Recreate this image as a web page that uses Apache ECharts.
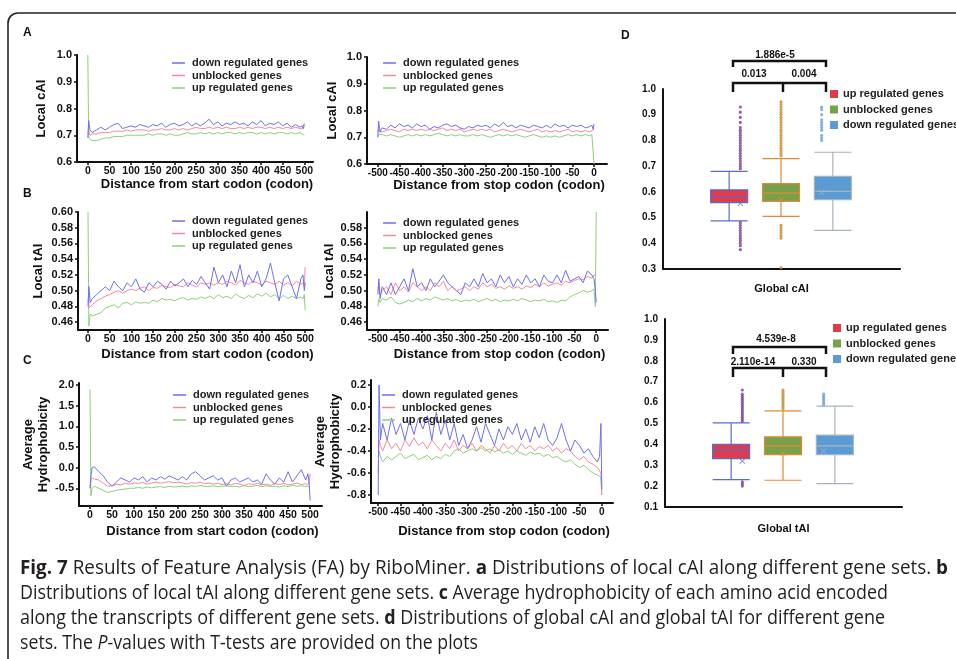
<!DOCTYPE html>
<html><head><meta charset="utf-8">
<script src="https://cdn.jsdelivr.net/npm/echarts@6/dist/echarts.min.js"></script>
<style>html,body{margin:0;padding:0;background:#fff}#c{width:956px;height:659px}</style>
</head><body><div id="c"></div><script>
// ---------- DATA ----------
const seriesNames = ['down regulated genes', 'unblocked genes', 'up regulated genes'];
const boxNames = ['up regulated genes', 'unblocked genes', 'down regulated genes'];

const posStart = [0,2,5, 10,20,30,40,50,60,70,80,90,100, 110,120,130,140,150,160,170,180,190,200,
  210,220,230,240,250,260,270,280,290,300, 310,320,330,340,350,360,370,380,390,400,
  410,420,430,440,450,460,470,480,490, 495,498,500];
const posStop = [-500,-498,-495, -490,-480,-470,-460,-450,-440,-430,-420,-410,-400,
  -390,-380,-370,-360,-350,-340,-330,-320,-310,-300, -290,-280,-270,-260,-250,-240,-230,-220,-210,-200,
  -190,-180,-170,-160,-150,-140,-130,-120,-110,-100, -90,-80,-70,-60,-50,-40,-30,-20,-10, -5,-2,0];

const startTicks = [0,50,100,150,200,250,300,350,400,450,500];
const stopTicks = [-500,-450,-400,-350,-300,-250,-200,-150,-100,-50,0];
const cAITicks = [0.6,0.7,0.8,0.9,1.0];
const tAITicksL = [0.46,0.48,0.50,0.52,0.54,0.56,0.58,0.60];
const tAITicksR = [0.46,0.48,0.50,0.52,0.54,0.56,0.58];
const hydTicksL = [-0.5,0,0.5,1.0,1.5,2.0];
const hydTicksR = [-0.8,-0.6,-0.4,-0.2,0,0.2];

// Panel A: local cAI
const cAIStartDown = [0.69,0.755,0.72, 0.71,0.72,0.73,0.72,0.73,0.74,0.745,0.725,0.73,0.735, 0.73,0.74,0.735,0.73,0.74,0.735,0.745,0.73,0.74,0.745, 0.735,0.74,0.75,0.735,0.745,0.735,0.745,0.76,0.74,0.75, 0.735,0.745,0.74,0.75,0.74,0.745,0.735,0.75,0.74,0.755, 0.735,0.745,0.74,0.75,0.735,0.745,0.73,0.74,0.73, 0.735,0.725,0.74];
const cAIStartUnb = [0.71,0.72,0.70, 0.705,0.705,0.71,0.71,0.71,0.715,0.715,0.715,0.72,0.715, 0.72,0.72,0.72,0.715,0.72,0.72,0.725,0.72,0.72,0.725, 0.72,0.725,0.72,0.725,0.73,0.725,0.725,0.73,0.725,0.73, 0.725,0.73,0.725,0.725,0.73,0.725,0.73,0.725,0.73,0.73, 0.725,0.73,0.725,0.73,0.725,0.73,0.725,0.73,0.725, 0.725,0.72,0.745];
const cAIStartUp = [1.0,0.69,0.685, 0.68,0.68,0.685,0.69,0.69,0.695,0.695,0.695,0.70,0.70, 0.70,0.70,0.70,0.705,0.70,0.705,0.705,0.70,0.705,0.70, 0.70,0.705,0.71,0.705,0.705,0.71,0.705,0.71,0.705,0.71, 0.705,0.71,0.71,0.705,0.71,0.705,0.71,0.71,0.705,0.71, 0.705,0.71,0.705,0.71,0.71,0.705,0.71,0.705,0.71, 0.705,0.70,0.70];
const cAIStopDown = [0.70,0.76,0.72, 0.735,0.73,0.745,0.735,0.75,0.74,0.745,0.735,0.75,0.74, 0.745,0.73,0.74,0.735,0.745,0.75,0.74,0.745,0.735,0.73, 0.74,0.735,0.745,0.74,0.745,0.735,0.75,0.74,0.755,0.74, 0.745,0.735,0.745,0.74,0.735,0.745,0.74,0.735,0.745,0.735, 0.75,0.74,0.745,0.735,0.745,0.74,0.745,0.735,0.74, 0.745,0.73,0.75];
const cAIStopUnb = [0.73,0.72,0.725, 0.72,0.725,0.73,0.725,0.72,0.73,0.725,0.73,0.725,0.73, 0.725,0.73,0.725,0.73,0.735,0.725,0.73,0.725,0.73,0.72, 0.725,0.73,0.725,0.73,0.725,0.73,0.72,0.725,0.73,0.725, 0.72,0.725,0.73,0.725,0.72,0.725,0.73,0.72,0.725,0.72, 0.725,0.72,0.725,0.73,0.72,0.725,0.72,0.725,0.72, 0.725,0.73,0.73];
const cAIStopUp = [0.70,0.71,0.705, 0.71,0.705,0.71,0.705,0.70,0.705,0.71,0.705,0.71,0.705, 0.71,0.705,0.71,0.715,0.71,0.705,0.71,0.705,0.71,0.705, 0.705,0.71,0.705,0.71,0.705,0.70,0.705,0.71,0.705,0.71, 0.705,0.71,0.705,0.70,0.705,0.71,0.705,0.70,0.705,0.70, 0.705,0.70,0.705,0.71,0.705,0.71,0.705,0.71,0.705, 0.71,0.71,0.60];

// Panel B: local tAI
const tAIStartDown = [0.48,0.505,0.485, 0.49,0.495,0.50,0.505,0.50,0.512,0.505,0.50,0.51,0.505, 0.515,0.502,0.498,0.51,0.505,0.512,0.508,0.502,0.512,0.506, 0.51,0.515,0.505,0.513,0.508,0.518,0.51,0.502,0.53,0.51, 0.52,0.505,0.525,0.51,0.533,0.505,0.52,0.51,0.525,0.505, 0.515,0.535,0.51,0.487,0.515,0.52,0.505,0.49,0.515, 0.52,0.50,0.51];
const tAIStartUnb = [0.49,0.478,0.48, 0.482,0.487,0.49,0.493,0.495,0.498,0.50,0.497,0.50,0.502, 0.50,0.503,0.505,0.50,0.504,0.503,0.507,0.505,0.504,0.508, 0.506,0.505,0.51,0.507,0.505,0.51,0.508,0.51,0.507,0.51, 0.508,0.512,0.51,0.507,0.513,0.51,0.508,0.512,0.51,0.507, 0.512,0.51,0.508,0.512,0.507,0.51,0.506,0.512,0.508, 0.51,0.505,0.53];
const tAIStartUp = [0.60,0.455,0.47, 0.468,0.47,0.472,0.478,0.48,0.482,0.478,0.484,0.485,0.482, 0.486,0.484,0.485,0.484,0.488,0.486,0.49,0.488,0.489,0.487, 0.49,0.491,0.488,0.49,0.489,0.492,0.49,0.493,0.49,0.495, 0.491,0.493,0.49,0.496,0.492,0.49,0.494,0.491,0.496,0.493, 0.497,0.492,0.495,0.49,0.494,0.49,0.493,0.49,0.492, 0.49,0.495,0.475];
const tAIStopDown = [0.495,0.515,0.49, 0.505,0.495,0.51,0.495,0.505,0.515,0.50,0.528,0.505,0.51, 0.50,0.515,0.505,0.512,0.52,0.51,0.505,0.50,0.495,0.51, 0.505,0.515,0.505,0.522,0.51,0.515,0.505,0.52,0.51,0.518, 0.505,0.515,0.508,0.52,0.51,0.515,0.505,0.52,0.512,0.51, 0.52,0.51,0.526,0.512,0.515,0.518,0.51,0.525,0.52, 0.515,0.50,0.485];
const tAIStopUnb = [0.50,0.51,0.495, 0.50,0.505,0.495,0.51,0.50,0.505,0.498,0.51,0.505,0.50, 0.505,0.50,0.51,0.505,0.512,0.50,0.505,0.50,0.502,0.505, 0.50,0.505,0.502,0.51,0.505,0.508,0.503,0.505,0.502,0.506, 0.503,0.505,0.502,0.506,0.504,0.508,0.505,0.51,0.506,0.508, 0.51,0.507,0.512,0.51,0.513,0.515,0.514,0.518,0.516, 0.52,0.518,0.52];
const tAIStopUp = [0.48,0.49,0.485, 0.49,0.488,0.492,0.485,0.483,0.485,0.488,0.486,0.49,0.487, 0.49,0.488,0.492,0.49,0.488,0.49,0.487,0.489,0.486,0.488, 0.487,0.489,0.486,0.488,0.49,0.487,0.489,0.486,0.488,0.487, 0.489,0.487,0.49,0.488,0.486,0.488,0.487,0.489,0.486,0.487, 0.485,0.488,0.487,0.492,0.495,0.497,0.50,0.498,0.50, 0.502,0.48,0.60];

// Panel C: average hydrophobicity
const hydStartDown = [-0.5,-0.2,0.0, 0.02,-0.1,-0.2,-0.35,-0.45,-0.35,-0.25,-0.3,-0.35,-0.25, -0.3,-0.22,-0.35,-0.25,-0.3,-0.22,-0.28,-0.2,-0.25,-0.3, -0.22,-0.3,-0.15,-0.1,-0.2,-0.3,-0.25,-0.2,-0.3,-0.25, -0.45,-0.3,-0.25,-0.35,-0.3,-0.25,-0.35,-0.3,-0.4,-0.15, -0.3,-0.4,-0.25,-0.35,-0.1,-0.35,-0.2,-0.05,-0.3, -0.15,-0.4,-0.8];
const hydStartUnb = [-0.5,-0.3,-0.25, -0.28,-0.3,-0.38,-0.45,-0.44,-0.4,-0.42,-0.38,-0.4,-0.37, -0.38,-0.36,-0.4,-0.37,-0.35,-0.38,-0.36,-0.34,-0.37,-0.35, -0.37,-0.4,-0.36,-0.38,-0.35,-0.39,-0.37,-0.4,-0.38,-0.41, -0.39,-0.42,-0.38,-0.4,-0.43,-0.39,-0.41,-0.38,-0.42,-0.4, -0.43,-0.39,-0.41,-0.38,-0.42,-0.4,-0.37,-0.41,-0.39, -0.42,-0.35,-0.15];
const hydStartUp = [1.9,-0.68,-0.5, -0.45,-0.5,-0.55,-0.6,-0.58,-0.55,-0.53,-0.52,-0.5,-0.5, -0.48,-0.5,-0.47,-0.49,-0.47,-0.46,-0.48,-0.45,-0.47,-0.46, -0.45,-0.47,-0.44,-0.46,-0.43,-0.45,-0.46,-0.44,-0.46,-0.45, -0.44,-0.46,-0.45,-0.47,-0.44,-0.46,-0.45,-0.43,-0.46,-0.44, -0.46,-0.45,-0.47,-0.44,-0.46,-0.43,-0.45,-0.44,-0.46, -0.45,-0.47,-0.5];
const hydStopDown = [-0.8,0.2,-0.3, -0.15,-0.3,-0.1,-0.25,-0.15,-0.3,-0.12,-0.25,-0.1,-0.2, -0.08,-0.3,-0.05,-0.25,-0.12,-0.3,-0.15,-0.35,-0.25,-0.38, -0.3,-0.18,-0.32,-0.15,-0.25,-0.35,-0.2,-0.3,-0.18,-0.25, -0.15,-0.3,-0.2,-0.32,-0.18,-0.28,-0.15,-0.3,-0.35,-0.28, -0.15,-0.3,-0.4,-0.3,-0.35,-0.42,-0.38,-0.45,-0.5, -0.45,-0.15,-0.75];
const hydStopUnb = [-0.6,-0.3,-0.35, -0.4,-0.3,-0.38,-0.33,-0.4,-0.3,-0.36,-0.28,-0.35,-0.32, -0.38,-0.3,-0.35,-0.4,-0.33,-0.38,-0.3,-0.4,-0.35,-0.38, -0.33,-0.4,-0.35,-0.38,-0.42,-0.35,-0.4,-0.33,-0.38,-0.35, -0.4,-0.33,-0.38,-0.35,-0.4,-0.36,-0.38,-0.35,-0.4,-0.37, -0.42,-0.38,-0.4,-0.45,-0.48,-0.45,-0.5,-0.52,-0.55, -0.58,-0.6,-0.8];
const hydStopUp = [-0.45,-0.4,-0.45, -0.5,-0.45,-0.48,-0.45,-0.42,-0.47,-0.45,-0.43,-0.48,-0.46, -0.44,-0.48,-0.45,-0.47,-0.43,-0.45,-0.4,-0.38,-0.42,-0.4, -0.38,-0.4,-0.37,-0.4,-0.38,-0.41,-0.39,-0.42,-0.4,-0.43, -0.4,-0.42,-0.44,-0.41,-0.43,-0.42,-0.45,-0.43,-0.46,-0.45, -0.48,-0.5,-0.48,-0.52,-0.55,-0.53,-0.57,-0.6,-0.62, -0.63,-0.65,-0.8];

// Panel D: box plots [min, Q1, median, Q3, max]
const cAIBoxes = [[0.487,0.558,0.582,0.608,0.68],[0.505,0.563,0.595,0.632,0.729],[0.45,0.57,0.602,0.66,0.754]];
const cAIMeans = [0.555,0.57,0.598];
const cAIUpOut = [0.69,0.70,0.71,0.72,0.73,0.74,0.75,0.76,0.77,0.78,0.79,0.80,0.81,0.82,0.83,0.84,0.85,0.87,0.89,0.91,0.93,0.48,0.47,0.46,0.45,0.44,0.43,0.42,0.41,0.40,0.39,0.375];
const cAIUnbOut = [0.74,0.75,0.76,0.77,0.78,0.79,0.80,0.81,0.82,0.83,0.84,0.85,0.86,0.87,0.88,0.89,0.90,0.91,0.92,0.93,0.94,0.95,0.47,0.46,0.45,0.44,0.43,0.42,0.305];
const cAIDownOut = [0.80,0.81,0.82,0.84,0.85,0.86,0.87,0.88,0.90,0.92,0.93];
const tAIBoxes = [[0.231,0.332,0.372,0.40,0.503],[0.228,0.351,0.393,0.436,0.56],[0.212,0.351,0.393,0.444,0.583]];
const tAIMeans = [0.32,0.359,0.368];
const tAIUpOut = [0.51,0.52,0.53,0.54,0.55,0.56,0.57,0.58,0.59,0.60,0.61,0.62,0.63,0.64,0.66,0.22,0.21,0.20];
const tAIUnbOut = [0.57,0.58,0.59,0.60,0.61,0.62,0.63,0.64,0.65,0.66];
const tAIDownOut = [0.59,0.60,0.61,0.62,0.63,0.64];
const cAIPvals = ['1.886e-5','0.013','0.004'];
const tAIPvals = ['4.539e-8','2.110e-14','0.330'];
const dTicksTop = [0.3,1.0];
const dTicksBottom = [0.1,1.0];

// ---------- STYLE ----------
const FONT = '"Liberation Sans", Arial, sans-serif';
const INK = '#111';
const lineColors = ['#6f6ff2', '#f58a98', '#8dcf77'];
const boxFill = ['#de3b4b', '#78a04a', '#5b9bd5'];
const boxBorder = ['#5a6bd0', '#e08b34', '#a9b3bd'];
const outColor = ['#7a3c95', '#c88b2e', '#6d9fd2'];

const grids = [], xAxes = [], yAxes = [], series = [], legends = [];

function lineChart(cfg) {
  const gi = grids.length;
  grids.push({left: cfg.box[0], top: cfg.box[1], width: cfg.box[2], height: cfg.box[3]});
  xAxes.push({type: 'value', gridIndex: gi, min: cfg.x[0], max: cfg.x[1],
    axisLine: {show: true, onZero: false, lineStyle: {color: INK, width: 2}},
    axisTick: {show: true, customValues: cfg.xt, length: 3, lineStyle: {color: INK, width: 1.5}},
    axisLabel: {customValues: cfg.xt, fontSize: cfg.xfs, fontWeight: 'bold', color: INK, fontFamily: FONT, margin: 4},
    splitLine: {show: false},
    name: cfg.xName, nameLocation: 'middle', nameGap: cfg.xGap,
    nameTextStyle: {fontSize: 13, fontWeight: 'bold', color: INK, fontFamily: FONT, padding: [0, 0, 0, 24]}});
  yAxes.push({type: 'value', gridIndex: gi, min: cfg.y[0], max: cfg.y[1],
    axisLine: {show: true, onZero: false, lineStyle: {color: INK, width: 2}},
    axisTick: {show: true, customValues: cfg.yt, length: 3, lineStyle: {color: INK, width: 1.5}},
    axisLabel: {customValues: cfg.yt, fontSize: 11, fontWeight: 'bold', color: INK, fontFamily: FONT, margin: 5,
      formatter: v => Number(v).toFixed(cfg.dec)},
    splitLine: {show: false},
    name: cfg.yName, nameLocation: 'middle', nameGap: cfg.yGap, nameRotate: 90,
    nameTextStyle: {fontSize: 13, fontWeight: 'bold', color: INK, fontFamily: FONT, lineHeight: 15}});
  // draw order: up, unblocked, down (down on top)
  [2, 1, 0].forEach(k => {
    series.push({type: 'line', name: seriesNames[k], xAxisIndex: gi, yAxisIndex: gi,
      data: cfg.pos.map((p, i) => [p, cfg.vals[k][i]]),
      showSymbol: false, symbol: 'none', silent: true, animation: false,
      lineStyle: {color: lineColors[k], width: 1}, itemStyle: {color: lineColors[k]}});
  });
  legends.push({left: cfg.leg[0], top: cfg.leg[1], orient: 'vertical', icon: 'rect', padding: 0,
    itemWidth: 13, itemHeight: 1.5, itemGap: 0.5,
    textStyle: {fontSize: 11, fontWeight: 'bold', color: '#222', fontFamily: FONT, lineHeight: 12, padding: [0, 0, 0, 2]},
    data: seriesNames.map((n, k) => ({name: n, itemStyle: {color: lineColors[k], borderWidth: 0}}))});
}

lineChart({box: [77, 55, 236, 107], x: [-25, 520], y: [0.6, 1.0], xt: startTicks, yt: cAITicks, xfs: 10.5, dec: 1,
  yName: 'Local cAI', yGap: 28, xName: 'Distance from start codon (codon)', xGap: 16, leg: [172, 57], pos: posStart,
  vals: [cAIStartDown, cAIStartUnb, cAIStartUp]});
lineChart({box: [367, 57, 240, 107], x: [-525, 30], y: [0.6, 1.0], xt: stopTicks, yt: cAITicks, xfs: 10, dec: 1,
  yName: 'Local cAI', yGap: 27, xName: 'Distance from stop codon (codon)', xGap: 14, leg: [383, 57], pos: posStop,
  vals: [cAIStopDown, cAIStopUnb, cAIStopUp]});
lineChart({box: [78, 212, 235, 118], x: [-23, 518], y: [0.45, 0.60], xt: startTicks, yt: tAITicksL, xfs: 10.5, dec: 2,
  yName: 'Local tAI', yGap: 32, xName: 'Distance from start codon (codon)', xGap: 18, leg: [172, 215], pos: posStart,
  vals: [tAIStartDown, tAIStartUnb, tAIStartUp]});
lineChart({box: [367, 212, 241, 118], x: [-525, 27], y: [0.45, 0.60], xt: stopTicks, yt: tAITicksR, xfs: 10, dec: 2,
  yName: 'Local tAI', yGap: 30, xName: 'Distance from stop codon (codon)', xGap: 18, leg: [383, 217], pos: posStop,
  vals: [tAIStopDown, tAIStopUnb, tAIStopUp]});
lineChart({box: [79, 383, 243, 123], x: [-25, 527], y: [-0.93, 2.05], xt: startTicks, yt: hydTicksL, xfs: 10.5, dec: 1,
  yName: 'Average\nHydrophobicity', yGap: 25, xName: 'Distance from start codon (codon)', xGap: 19, leg: [173, 389], pos: posStart,
  vals: [hydStartDown, hydStartUnb, hydStartUp]});
lineChart({box: [371, 380, 242, 123], x: [-516, 25], y: [-0.873, 0.245], xt: stopTicks, yt: hydTicksR, xfs: 10, dec: 1,
  yName: 'Average\nHydrophobicity', yGap: 28, xName: 'Distance from stop codon (codon)', xGap: 22, leg: [382, 389], pos: posStop,
  vals: [hydStopDown, hydStopUnb, hydStopUp]});

const cross = 'path://M0,1 L1,0 L5,4 L9,0 L10,1 L6,5 L10,9 L9,10 L5,6 L1,10 L0,9 L4,5Z';

function boxChart(cfg) {
  const gm = grids.length;
  grids.push({left: cfg.main[0], top: cfg.main[1], width: cfg.main[2], height: cfg.main[3]});
  xAxes.push({type: 'category', gridIndex: gm, data: [cfg.xName],
    axisLine: {show: true, lineStyle: {color: INK, width: 2}}, axisTick: {show: false}, axisLabel: {show: false},
    name: cfg.xName, nameLocation: 'middle', nameGap: cfg.xGap,
    nameTextStyle: {fontSize: 11, fontWeight: 'bold', color: INK, fontFamily: FONT, padding: [0, 0, 0, cfg.xPad]}});
  yAxes.push({type: 'value', gridIndex: gm, min: cfg.y[0], max: cfg.y[1], interval: 0.1,
    axisLine: {show: true, lineStyle: {color: INK, width: 2}}, axisTick: {show: false}, splitLine: {show: false},
    axisLabel: {fontSize: 10, fontWeight: 'bold', color: INK, fontFamily: FONT, margin: 7, formatter: v => v.toFixed(1)}});
  const gb = grids.length;
  grids.push({left: cfg.boxGrid[0], top: cfg.main[1], width: cfg.boxGrid[1], height: cfg.main[3]});
  xAxes.push({type: 'category', gridIndex: gb, data: boxNames, show: false});
  yAxes.push({type: 'value', gridIndex: gb, min: cfg.y[0], max: cfg.y[1], show: false});
  cfg.boxes.forEach((b, k) => {
    series.push({type: 'boxplot', name: boxNames[k], xAxisIndex: gb, yAxisIndex: gb, boxWidth: [37, 37],
      silent: true, animation: false,
      itemStyle: {color: boxFill[k], borderColor: boxBorder[k], borderWidth: 1.2},
      data: boxNames.map((n, j) => j === k ? b : '-')});
  });
  cfg.outs.forEach((arr, k) => {
    series.push({type: 'scatter', xAxisIndex: gb, yAxisIndex: gb, symbolSize: 3.2, silent: true, animation: false,
      itemStyle: {color: outColor[k]}, data: arr.map(v => [k, v])});
  });
  series.push({type: 'scatter', xAxisIndex: gb, yAxisIndex: gb, symbol: cross, symbolSize: 6, silent: true, animation: false,
    data: cfg.means.map((v, k) => ({value: [k, v], itemStyle: {color: boxBorder[k]}}))});
  legends.push({left: cfg.leg[0], top: cfg.leg[1], orient: 'vertical', icon: 'rect', padding: 0,
    itemWidth: 8, itemHeight: 8, itemGap: 3.5,
    textStyle: {fontSize: 11, fontWeight: 'bold', color: '#222', fontFamily: FONT, lineHeight: 12, padding: [0, 0, 0, 0]},
    data: boxNames.map((n, k) => ({name: n, itemStyle: {color: boxFill[k], borderWidth: 0}}))});
}

boxChart({main: [663, 89, 237, 180], boxGrid: [720, 122], y: dTicksTop, xName: 'Global cAI', xGap: 14, xPad: 0,
  boxes: cAIBoxes, means: cAIMeans, outs: [cAIUpOut, cAIUnbOut, cAIDownOut], leg: [830, 88]});
boxChart({main: [665, 319, 237, 188], boxGrid: [722, 122], y: dTicksBottom, xName: 'Global tAI', xGap: 16, xPad: 0,
  boxes: tAIBoxes, means: tAIMeans, outs: [tAIUpOut, tAIUnbOut, tAIDownOut], leg: [833, 322]});

// ---------- ANNOTATIONS ----------
const graphics = [];
graphics.push({type: 'rect', shape: {x: 8, y: 13, width: 1000, height: 700, r: [10, 0, 0, 0]},
  style: {fill: 'none', stroke: '#222', lineWidth: 1.6}, silent: true});
[['A', 23, 33], ['B', 23, 194], ['C', 23, 361], ['D', 621, 36]].forEach(([t, x, y]) => {
  graphics.push({type: 'text', x: x, y: y, style: {text: t, fontSize: 12, fontWeight: 'bold', fontFamily: FONT, fill: INK, verticalAlign: 'middle'}});
});
function bracket(yTop, tick1, yLow, tick2, xs, labels, labelY) {
  const st = {stroke: INK, lineWidth: 2.5, fill: 'none'};
  graphics.push({type: 'polyline', shape: {points: [[xs[0], tick1], [xs[0], yTop], [xs[2], yTop], [xs[2], tick1]]}, style: st});
  graphics.push({type: 'polyline', shape: {points: [[xs[0], tick2], [xs[0], yLow], [xs[2], yLow], [xs[2], tick2]]}, style: st});
  graphics.push({type: 'line', shape: {x1: xs[1], y1: yLow, x2: xs[1], y2: tick2}, style: st});
  labels.forEach((t, i) => {
    graphics.push({type: 'text', x: labelY[i][0], y: labelY[i][1],
      style: {text: t, fontSize: 10, fontWeight: 'bold', fontFamily: FONT, fill: INK, align: 'center', verticalAlign: 'middle'}});
  });
}
bracket(61, 67, 83, 92, [733, 783, 826], cAIPvals, [[775, 55], [754, 74], [804, 74]]);
bracket(347, 354, 368, 377, [733, 783, 826], tAIPvals, [[776, 339], [753, 362], [804, 362]]);

// caption
const CF = '"Open Sans", "DejaVu Sans", sans-serif';
const capLines = [
  [['b', 'Fig. 7'], ['n', ' Results of Feature Analysis (FA) by RiboMiner. '], ['b', 'a'], ['n', ' Distributions of local cAI along different gene sets. '], ['b', 'b']],
  [['n', 'Distributions of local tAI along different gene sets. '], ['b', 'c'], ['n', ' Average hydrophobicity of each amino acid encoded']],
  [['n', 'along the transcripts of different gene sets. '], ['b', 'd'], ['n', ' Distributions of global cAI and global tAI for different gene']],
  [['n', 'sets. The '], ['i', 'P'], ['n', '-values with T-tests are provided on the plots']]
];
const capWidths = [928, 868, 865, 458];
const CS = 20;
const ctx = document.createElement('canvas').getContext('2d');
function segFont(s) { return (s === 'b' ? 'bold ' : s === 'i' ? 'italic ' : '') + CS + 'px ' + CF; }
const rich = {
  n: {fontSize: CS, fontFamily: CF, fill: '#231f20'},
  b: {fontSize: CS, fontFamily: CF, fontWeight: 'bold', fill: '#231f20'},
  i: {fontSize: CS, fontFamily: CF, fontStyle: 'italic', fill: '#231f20'}
};
capLines.forEach((segs, li) => {
  let w = 0;
  segs.forEach(([s, t]) => { ctx.font = segFont(s); w += ctx.measureText(t).width; });
  graphics.push({type: 'text', x: 20, y: 568 + li * 25, scaleX: capWidths[li] / w,
    style: {text: segs.map(([s, t]) => '{' + s + '|' + t + '}').join(''), rich: rich,
      fontSize: CS, fontFamily: CF, fill: '#231f20', verticalAlign: 'middle'}});
});

const chart = echarts.init(document.getElementById('c'), null, {renderer: 'canvas'});
chart.setOption({
  animation: false, backgroundColor: '#fff',
  grid: grids, xAxis: xAxes, yAxis: yAxes, series: series, legend: legends, graphic: graphics
});
</script></body></html>
